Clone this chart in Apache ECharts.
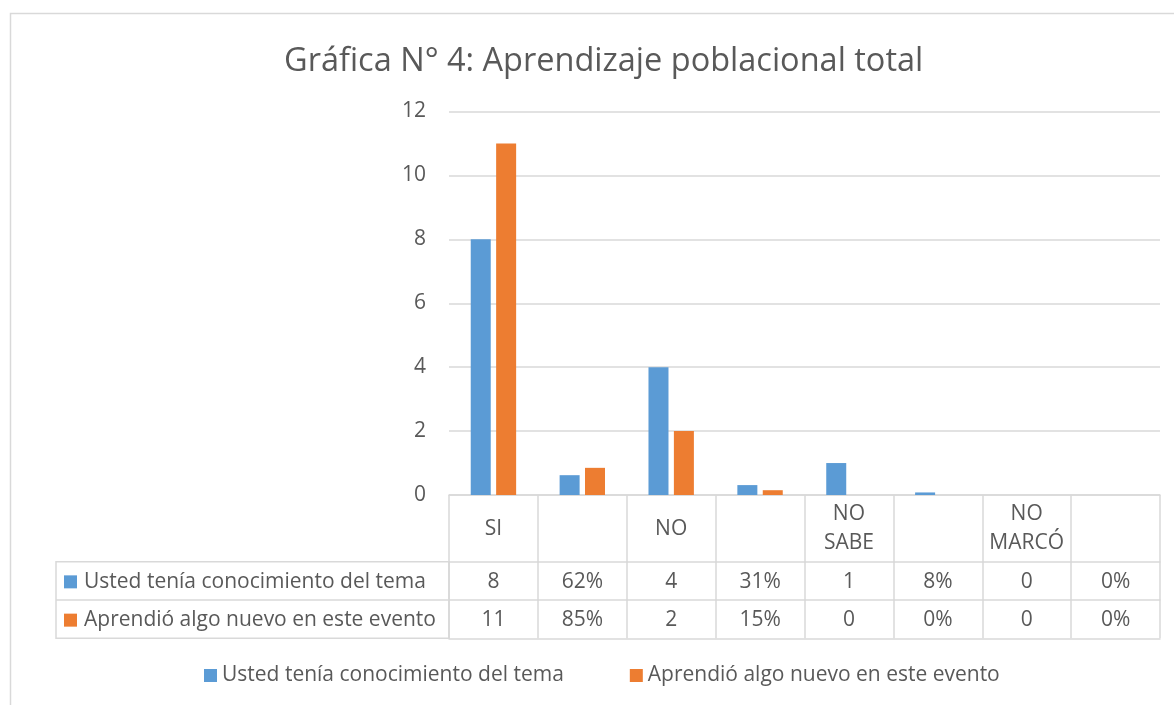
<!DOCTYPE html>
<html>
<head>
<meta charset="utf-8">
<script src="https://cdn.jsdelivr.net/npm/echarts@6/dist/echarts.min.js"></script>
<style>
  html, body { margin: 0; padding: 0; background: #fff; }
  #main { width: 1174px; height: 705px; }
</style>
</head>
<body>
<div id="main"></div>
<script>
// categories (header row of the data table)
const categories = ['SI', '', 'NO', '', 'NO\nSABE', '', 'NO\nMARCÓ', ''];
const seriesNames = ['Usted tenía conocimiento del tema', 'Aprendió algo nuevo en este evento'];
// values drawn as bars
const conocimiento = [8, 0.62, 4, 0.31, 1, 0.08, 0, 0];
const aprendio = [11, 0.85, 2, 0.15, 0, 0, 0, 0];
// texts shown in the table rows
const conocimientoLabels = ['8', '62%', '4', '31%', '1', '8%', '0', '0%'];
const aprendioLabels = ['11', '85%', '2', '15%', '0', '0%', '0', '0%'];
const colors = ['#5B9BD5', '#ED7D31'];

const font = "'Open Sans', sans-serif";
const fontSize = 21;
const textColor = '#595959';
const lineColor = '#D9D9D9';

// layout of the plot and table
const gridLeft = 449, gridRight = 14, gridTop = 111.5, axisY = 495;
const row1Top = 561.7, row2Top = 600, tableBottom = 638.3, tableLeft = 56;

function rowAxis(offset, labels) {
  return {
    type: 'category',
    data: categories,
    position: 'bottom',
    offset: offset,
    axisLine: { show: true, lineStyle: { color: lineColor, width: 1.5 } },
    axisTick: { show: false },
    axisLabel: labels ? {
      interval: 0,
      margin: 20,
      verticalAlign: 'middle',
      fontFamily: font,
      fontSize: fontSize,
      color: textColor,
      formatter: (v, i) => labels[i]
    } : { show: false }
  };
}

const chart = echarts.init(document.getElementById('main'));

const option = {
  animation: false,
  title: {
    text: 'Gráfica N° 4: Aprendizaje poblacional total',
    left: 279,
    top: 40,
    textStyle: { fontFamily: font, fontSize: 32.5, fontWeight: 'normal', color: textColor }
  },
  legend: {
    left: 204,
    top: 665,
    padding: 0,
    icon: 'rect',
    itemWidth: 13,
    itemHeight: 13,
    itemGap: 66,
    textStyle: { fontFamily: font, fontSize: fontSize, color: textColor }
  },
  grid: { left: gridLeft, right: gridRight, top: gridTop, bottom: 705 - axisY },
  xAxis: [
    {
      type: 'category',
      data: categories,
      position: 'bottom',
      axisLine: { show: true, lineStyle: { color: lineColor, width: 1.5 } },
      axisTick: { show: true, interval: 0, length: tableBottom - axisY, lineStyle: { color: lineColor, width: 1.5 } },
      axisLabel: {
        interval: 0,
        margin: 34,
        verticalAlign: 'middle',
        lineHeight: 29,
        fontFamily: font,
        fontSize: fontSize,
        color: textColor
      }
    },
    rowAxis(row1Top - axisY, conocimientoLabels),
    rowAxis(row2Top - axisY, aprendioLabels),
    rowAxis(tableBottom - axisY, null)
  ],
  yAxis: {
    type: 'value',
    min: 0,
    max: 12,
    interval: 2,
    axisLine: { show: false },
    axisTick: { show: false },
    axisLabel: { margin: 23, fontFamily: font, fontSize: fontSize, color: textColor },
    splitLine: { lineStyle: { color: lineColor, width: 1.5 } }
  },
  series: [
    { name: seriesNames[0], type: 'bar', data: conocimiento, barWidth: 20, barGap: '27%', itemStyle: { color: colors[0] } },
    { name: seriesNames[1], type: 'bar', data: aprendio, barWidth: 20, barGap: '27%', itemStyle: { color: colors[1] } }
  ],
  graphic: [
    // chart area border (top and left edges visible)
    { type: 'rect', silent: true, shape: { x: 10.5, y: 13.5, width: 1300, height: 800 },
      style: { fill: 'none', stroke: lineColor, lineWidth: 1.5 } },
    // legend-key column of the data table
    { type: 'rect', silent: true, shape: { x: tableLeft, y: row1Top, width: gridLeft - tableLeft, height: tableBottom - row1Top },
      style: { fill: 'none', stroke: lineColor, lineWidth: 1.5 } },
    { type: 'line', silent: true, shape: { x1: tableLeft, y1: row2Top, x2: gridLeft, y2: row2Top },
      style: { stroke: lineColor, lineWidth: 1.5 } }
  ].concat(seriesNames.map((name, i) => ({
    type: 'text',
    silent: true,
    x: 64,
    y: i === 0 ? (row1Top + row2Top) / 2 + 1 : (row2Top + tableBottom) / 2 + 1,
    style: {
      text: '{k|}{t|' + name + '}',
      verticalAlign: 'middle',
      rich: {
        k: { width: 13, height: 13, backgroundColor: colors[i] },
        t: { fontFamily: font, fontSize: fontSize, fill: textColor, padding: [0, 0, 0, 7] }
      }
    }
  })))
};

chart.setOption(option);
</script>
</body>
</html>
